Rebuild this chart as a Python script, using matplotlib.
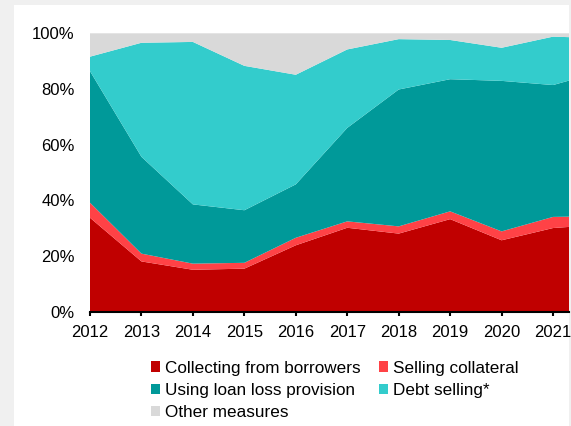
import matplotlib.pyplot as plt
from matplotlib.patches import Rectangle
from matplotlib.ticker import FuncFormatter

plt.rcParams['font.family'] = ['Liberation Sans', 'DejaVu Sans']

# shares of NPL resolution measures, % (cumulative tops read per year)
years = [2012, 2013, 2014, 2015, 2016, 2017, 2018, 2019, 2020, 2021, 2022]
collecting = [33.7, 18.0, 15.0, 15.4, 23.8, 30.1, 28.0, 33.2, 25.6, 30.0, 31.3]
collateral = [5.4, 2.8, 2.2, 2.1, 2.7, 2.3, 2.6, 2.8, 3.2, 4.0, 3.0]
provision = [47.3, 34.8, 21.3, 18.9, 19.2, 33.6, 49.2, 47.5, 54.1, 47.4, 52.3]
debt_selling = [5.2, 41.0, 58.4, 51.9, 39.4, 28.2, 18.1, 14.1, 11.9, 17.4, 11.6]
other = [100 - a - b - c - d for a, b, c, d in
         zip(collecting, collateral, provision, debt_selling)]

labels = ['Collecting from borrowers', 'Selling collateral',
          'Using loan loss provision', 'Debt selling*', 'Other measures']
colors = ['#c00000', '#ff4246', '#009999', '#33cccc', '#d9d9d9']

fig = plt.figure(figsize=(5.71, 4.26), dpi=100, facecolor='#f0f0f0')
fig.patches.append(Rectangle((14 / 571, 0), 555 / 571, 1 - 5 / 426,
                             transform=fig.transFigure, facecolor='white',
                             edgecolor='none', zorder=-1))

ax = fig.add_axes([90 / 571, 1 - 311.5 / 426, 479 / 571, 278.2 / 426])
ax.set_zorder(1)
ax.set_facecolor('none')
polys = ax.stackplot(years, collecting, collateral, provision, debt_selling, other,
                     colors=colors, labels=labels, linewidth=0)

ax.set_xlim(2012, 2021.31)
ax.set_ylim(0, 100)
ax.set_xticks(range(2012, 2022))
ax.set_yticks(range(0, 101, 20))
ax.yaxis.set_major_formatter(FuncFormatter(lambda v, p: '%d%%' % v))

for s in ['top', 'right', 'left']:
    ax.spines[s].set_visible(False)
ax.spines['bottom'].set_linewidth(1.5)
ax.spines['bottom'].set_zorder(5)
ax.tick_params(axis='x', direction='out', length=3, width=1.5, pad=6.5, labelsize=12)
ax.tick_params(axis='y', length=0, pad=11, labelsize=12)

# legend: column 1 = measures 0, 2, 4; column 2 = measures 1, 3
order = [0, 2, 4, 1, 3]
leg = fig.legend([polys[i] for i in order], [labels[i] for i in order],
                 loc='upper left', bbox_to_anchor=(142 / 571, 1 - 352 / 426),
                 ncol=2, frameon=False, fontsize=12.3, borderpad=0,
                 handlelength=0.55, handleheight=0.55, handletextpad=0.3,
                 columnspacing=1.05, labelspacing=0.42)
leg.set_zorder(2)

fig.savefig('out.png', dpi=100, facecolor=fig.get_facecolor())
